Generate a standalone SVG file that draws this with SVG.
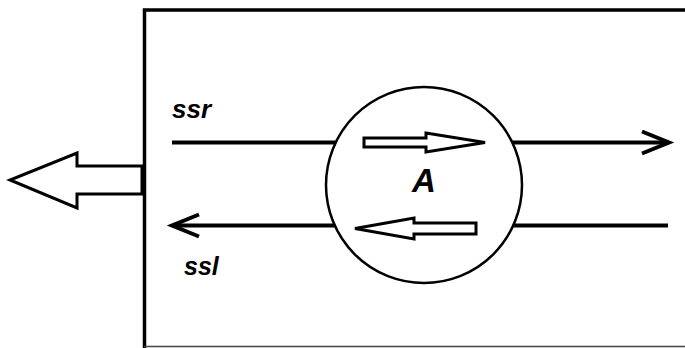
<svg xmlns="http://www.w3.org/2000/svg" width="685" height="348" viewBox="0 0 685 348">
  <defs>
    <marker id="chev" markerUnits="userSpaceOnUse" markerWidth="40" markerHeight="30" viewBox="-32 -15 40 30" refX="0" refY="0" orient="auto">
      <path d="M-27,-11 L0,0 L-27,11" fill="none" stroke="#000" stroke-width="4" stroke-linejoin="miter"/>
    </marker>
  </defs>
  <style>
    .line { stroke:#000; stroke-width:4; fill:none; }
    .hollow { fill:#fff; stroke:#000; stroke-width:3; stroke-linejoin:miter; }
    .lbl { font-family:"Liberation Sans", Arial, sans-serif; font-weight:bold; font-style:italic; fill:#000; }
  </style>
  <rect width="685" height="348" fill="#fff"/>
  <g id="frame">
    <path d="M685,10 H144.5 V348" fill="none" stroke="#000" stroke-width="3.5"/>
    <path d="M144,346.5 H685" fill="none" stroke="#444" stroke-width="1.5"/>
  </g>
  <g id="output-arrow">
    <polygon class="hollow" points="142,166 77,166 77,153 10,180 77,208 77,194 142,194"/>
  </g>
  <g id="connectors">
    <line class="line" x1="172" y1="142.5" x2="669" y2="142.5" marker-end="url(#chev)"/>
    <line class="line" x1="668" y1="225.5" x2="172" y2="225.5" marker-end="url(#chev)"/>
  </g>
  <g id="node-A">
    <circle cx="424" cy="185" r="98" fill="#fff" stroke="#000" stroke-width="2.5"/>
    <polygon class="hollow" points="364,138 426,138 426,133 485,142.5 426,152 426,147 364,147"/>
    <polygon class="hollow" points="476,223 414,223 414,218 355,228.5 414,239 414,234 476,234"/>
    <text class="lbl" x="412" y="192" font-size="33">A</text>
  </g>
  <g id="labels">
    <text class="lbl" x="172" y="118" font-size="26">ssr</text>
    <text class="lbl" x="184" y="275" font-size="25">ssl</text>
  </g>
</svg>
